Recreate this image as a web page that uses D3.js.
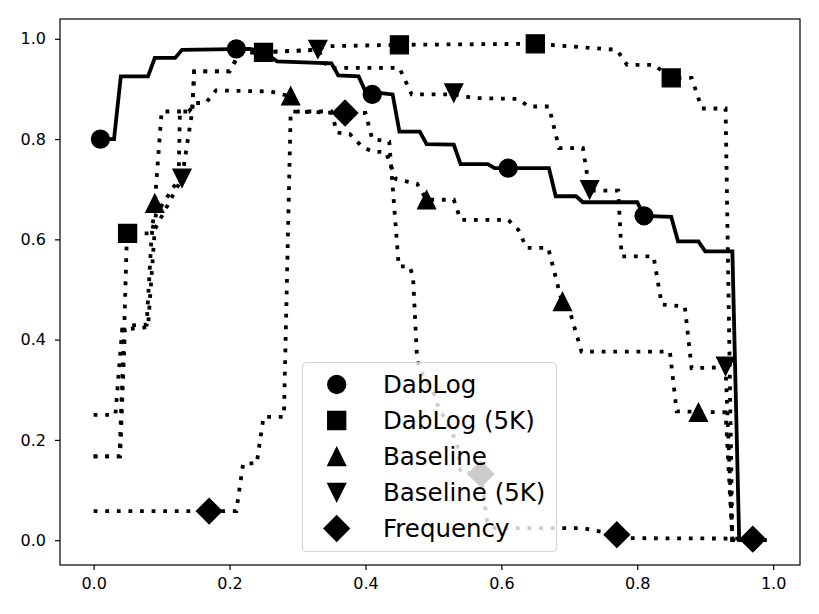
<!doctype html>
<html lang="en">
  <head>
    <meta charset="UTF-8" />
    <title>DabLog precision curves</title>
    <script src="https://d3js.org/d3.v7.min.js"></script>
    <style>
      body {
        margin: 0;
        padding: 0;
        background: #ffffff;
        font-family: 'DejaVu Sans', sans-serif;
      }
      .tick text {
        font-family: 'DejaVu Sans', sans-serif;
        font-size: 16px;
        fill: #000;
      }
      .legend-item {
        font-family: 'DejaVu Sans', sans-serif;
        font-size: 24.5px;
        fill: #000;
      }
    </style>
  </head>
  <body>
    <div id="chart"></div>

    <script>
      // Vertices of each curve as [x, y]
      const dablog = [
        [0.0, 0.8], [0.03, 0.8], [0.04, 0.925], [0.08, 0.925], [0.09, 0.962], [0.12, 0.962],
        [0.13, 0.978], [0.23, 0.98], [0.25, 0.974], [0.27, 0.955], [0.35, 0.951], [0.36, 0.927],
        [0.39, 0.925], [0.40, 0.895], [0.44, 0.889], [0.45, 0.815], [0.48, 0.815], [0.49, 0.79],
        [0.53, 0.789], [0.54, 0.75], [0.58, 0.75], [0.59, 0.742], [0.67, 0.742], [0.68, 0.686],
        [0.71, 0.686], [0.72, 0.674], [0.80, 0.674], [0.81, 0.647], [0.85, 0.645], [0.86, 0.596],
        [0.89, 0.596], [0.90, 0.576], [0.94, 0.576], [0.95, 0.0], [0.99, 0.0]
      ]
      const dablog5k = [
        [0.0, 0.167], [0.038, 0.167], [0.045, 0.42], [0.049, 0.612], [0.085, 0.612], [0.092, 0.65],
        [0.125, 0.72], [0.127, 0.855], [0.145, 0.855], [0.148, 0.935], [0.20, 0.935], [0.215, 0.972],
        [0.25, 0.973], [0.33, 0.978], [0.34, 0.985], [0.45, 0.988], [0.65, 0.99], [0.77, 0.978],
        [0.785, 0.948], [0.825, 0.948], [0.85, 0.922], [0.88, 0.922], [0.895, 0.861], [0.93, 0.861],
        [0.94, 0.0], [0.99, 0.0]
      ]
      const baseline = [
        [0.0, 0.167], [0.039, 0.167], [0.046, 0.42], [0.052, 0.428], [0.078, 0.43], [0.085, 0.6],
        [0.09, 0.672], [0.10, 0.855], [0.14, 0.855], [0.15, 0.872], [0.165, 0.872], [0.18, 0.897],
        [0.26, 0.895], [0.29, 0.885], [0.30, 0.855], [0.35, 0.855], [0.358, 0.813], [0.377, 0.81],
        [0.395, 0.785], [0.41, 0.775], [0.43, 0.774], [0.445, 0.72], [0.476, 0.711], [0.49, 0.679],
        [0.53, 0.679], [0.54, 0.639], [0.61, 0.639], [0.625, 0.619], [0.637, 0.583], [0.669, 0.583],
        [0.689, 0.476], [0.70, 0.46], [0.718, 0.376], [0.848, 0.376], [0.858, 0.257], [0.93, 0.255],
        [0.94, 0.0], [0.99, 0.0]
      ]
      const baseline5k = [
        [0.0, 0.25], [0.032, 0.25], [0.042, 0.42], [0.08, 0.425], [0.09, 0.62], [0.13, 0.722],
        [0.145, 0.855], [0.148, 0.935], [0.20, 0.935], [0.215, 0.972], [0.33, 0.978], [0.345, 0.942],
        [0.45, 0.942], [0.468, 0.889], [0.53, 0.889], [0.56, 0.882], [0.625, 0.88], [0.64, 0.865],
        [0.67, 0.865], [0.685, 0.782], [0.72, 0.782], [0.73, 0.697], [0.772, 0.697], [0.777, 0.566],
        [0.824, 0.566], [0.836, 0.47], [0.87, 0.466], [0.88, 0.343], [0.93, 0.345], [0.94, 0.0],
        [0.99, 0.0]
      ]
      const frequency = [
        [0.0, 0.058], [0.21, 0.058], [0.22, 0.153], [0.24, 0.153], [0.25, 0.246], [0.28, 0.246],
        [0.29, 0.855], [0.37, 0.852], [0.40, 0.852], [0.41, 0.8], [0.435, 0.795], [0.449, 0.546],
        [0.465, 0.546], [0.47, 0.526], [0.476, 0.36], [0.48, 0.34], [0.50, 0.296], [0.505, 0.273],
        [0.53, 0.207], [0.535, 0.19], [0.54, 0.135], [0.57, 0.132], [0.579, 0.037], [0.59, 0.024],
        [0.72, 0.024], [0.75, 0.016], [0.77, 0.011], [0.79, 0.004], [0.99, 0.003]
      ]

      // Marker positions on each curve
      const dablogMarks = [[0.01, 0.8], [0.21, 0.98], [0.41, 0.889], [0.61, 0.742], [0.81, 0.647]]
      const dablog5kMarks = [[0.05, 0.612], [0.25, 0.973], [0.45, 0.988], [0.65, 0.99], [0.85, 0.922]]
      const baselineMarks = [[0.09, 0.672], [0.29, 0.886], [0.49, 0.679], [0.69, 0.476], [0.89, 0.255]]
      const baseline5kMarks = [[0.13, 0.722], [0.33, 0.979], [0.53, 0.892], [0.73, 0.699], [0.93, 0.347]]
      const frequencyMarks = [[0.17, 0.058], [0.37, 0.852], [0.57, 0.132], [0.77, 0.011], [0.97, 0.002]]

      const seriesNames = ['DabLog', 'DabLog (5K)', 'Baseline', 'Baseline (5K)', 'Frequency']
      const xTicks = [0.0, 0.2, 0.4, 0.6, 0.8, 1.0]
      const yTicks = [0.0, 0.2, 0.4, 0.6, 0.8, 1.0]

      const series = [
        { name: seriesNames[0], points: dablog, marks: dablogMarks, shape: 'circle', dotted: false },
        { name: seriesNames[1], points: dablog5k, marks: dablog5kMarks, shape: 'square', dotted: true },
        { name: seriesNames[2], points: baseline, marks: baselineMarks, shape: 'triangleUp', dotted: true },
        { name: seriesNames[3], points: baseline5k, marks: baseline5kMarks, shape: 'triangleDown', dotted: true },
        { name: seriesNames[4], points: frequency, marks: frequencyMarks, shape: 'diamond', dotted: true }
      ]

      const W = 819
      const H = 614
      const plot = { left: 60, right: 800, top: 19, bottom: 565 }

      const svg = d3.select('#chart').append('svg').attr('width', W).attr('height', H)
      svg.append('rect').attr('width', W).attr('height', H).attr('fill', '#fff')

      const x = d3.scaleLinear().domain([-0.0495, 1.0395]).range([plot.left, plot.right])
      const y = d3.scaleLinear().domain([-0.0495, 1.0395]).range([plot.bottom, plot.top])

      // matplotlib-like marker paths, ms = marker size in px
      const ms = 18
      function markerPath(shape) {
        const h = ms / 2
        if (shape === 'circle') return d3.symbol(d3.symbolCircle, Math.PI * h * h)()
        if (shape === 'square') return `M${-h},${-h}H${h}V${h}H${-h}Z`
        if (shape === 'triangleUp') return `M0,${-h}L${h},${h}L${-h},${h}Z`
        if (shape === 'triangleDown') return `M0,${h}L${h},${-h}L${-h},${-h}Z`
        const d = h * Math.SQRT2
        return `M0,${-d}L${d},0L0,${d}L${-d},0Z`
      }

      const line = d3
        .line()
        .x((d) => x(d[0]))
        .y((d) => y(d[1]))

      const plotArea = svg.append('g')

      series.forEach((s) => {
        plotArea
          .append('path')
          .datum(s.points)
          .attr('d', line)
          .attr('fill', 'none')
          .attr('stroke', '#000')
          .attr('stroke-width', 3.8)
          .attr('stroke-linejoin', 'miter')
          .attr('stroke-dasharray', s.dotted ? '3.8,7.8' : null)

        plotArea
          .selectAll(null)
          .data(s.marks)
          .join('path')
          .attr('transform', (d) => `translate(${x(d[0])},${y(d[1])})`)
          .attr('d', markerPath(s.shape))
          .attr('fill', '#000')
          .attr('stroke', '#000')
          .attr('stroke-width', 1.3)
      })

      // Frame
      svg
        .append('rect')
        .attr('x', plot.left)
        .attr('y', plot.top)
        .attr('width', plot.right - plot.left)
        .attr('height', plot.bottom - plot.top)
        .attr('fill', 'none')
        .attr('stroke', '#000')
        .attr('stroke-width', 1.2)

      // Axes
      const xAxis = svg
        .append('g')
        .attr('transform', `translate(0,${plot.bottom})`)
        .call(d3.axisBottom(x).tickValues(xTicks).tickFormat(d3.format('.1f')).tickSize(5).tickPadding(8))
      xAxis.select('.domain').remove()
      xAxis.selectAll('.tick line').attr('stroke-width', 1.2)

      const yAxis = svg
        .append('g')
        .attr('transform', `translate(${plot.left},0)`)
        .call(d3.axisLeft(y).tickValues(yTicks).tickFormat(d3.format('.1f')).tickSize(5).tickPadding(9))
      yAxis.select('.domain').remove()
      yAxis.selectAll('.tick line').attr('stroke-width', 1.2)

      // Legend (semi-transparent box, markers only)
      const legend = svg.append('g')
      legend
        .append('rect')
        .attr('x', 302.5)
        .attr('y', 362.5)
        .attr('width', 254)
        .attr('height', 189)
        .attr('rx', 4)
        .attr('fill', '#fff')
        .attr('fill-opacity', 0.8)
        .attr('stroke', '#cccccc')
        .attr('stroke-opacity', 0.8)
        .attr('stroke-width', 1.2)

      series.forEach((s, i) => {
        const cy = 384.5 + i * 36
        legend
          .append('path')
          .attr('transform', `translate(336.7,${cy})`)
          .attr('d', markerPath(s.shape))
          .attr('fill', '#000')
          .attr('stroke', '#000')
          .attr('stroke-width', 1.3)
        legend
          .append('text')
          .attr('class', 'legend-item')
          .attr('x', 383)
          .attr('y', cy + 8.5)
          .text(s.name)
      })
    </script>
  </body>
</html>
